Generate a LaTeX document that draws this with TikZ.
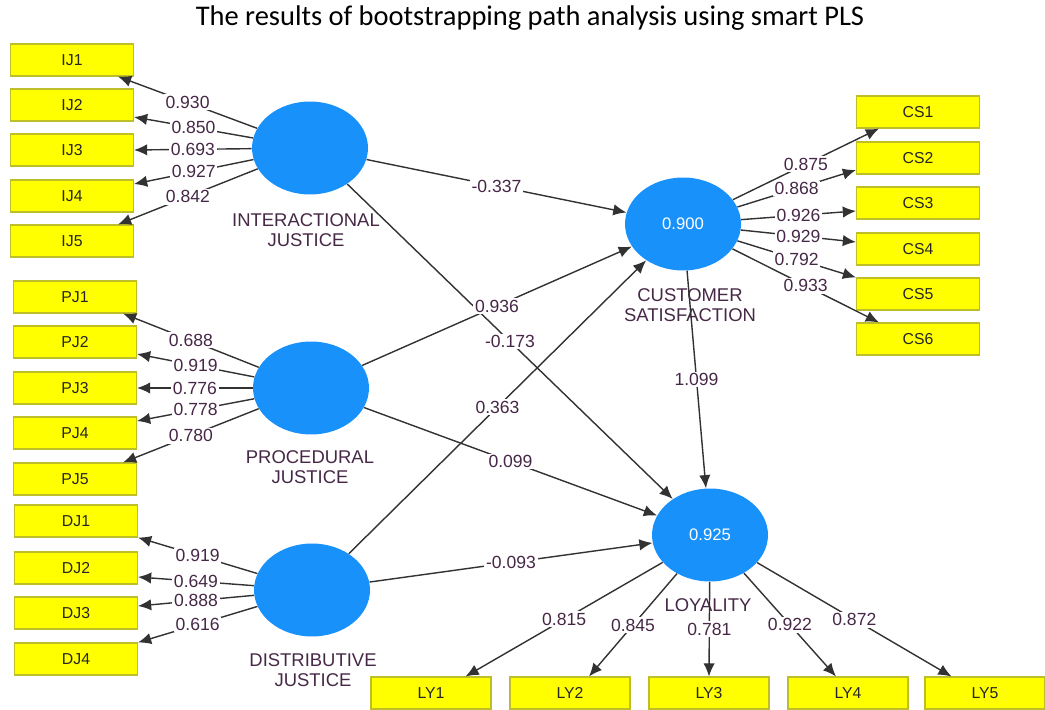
\documentclass[tikz,border=0pt]{standalone}
\usepackage{fontspec}
\setmainfont{Liberation Sans}
\newfontfamily\titlefont{Carlito}
\usetikzlibrary{shapes,arrows.meta,calc}
\usepackage{xcolor}
\definecolor{plsblue}{RGB}{25,145,250}
\definecolor{plsyellow}{RGB}{255,255,0}
\definecolor{plsedge}{RGB}{190,190,40}
\definecolor{plstext}{RGB}{70,40,70}
\definecolor{plsline}{RGB}{50,50,50}
\tikzset{
  indicator/.style={draw=plsedge,fill=plsyellow,line width=0.6pt,minimum width=2.46cm,minimum height=0.64cm,inner sep=0pt,text=black!85,font=\fontsize{9}{10}\selectfont},
  latent/.style={ellipse,fill=plsblue,minimum width=2.32cm,minimum height=1.86cm,inner sep=0pt,text=white,font=\fontsize{9.5}{11}\selectfont},
  lvname/.style={align=center,text=plstext,font=\fontsize{10.5}{11.5}\selectfont},
  load/.style={fill=white,inner sep=1pt,text=plstext,font=\fontsize{10}{11}\selectfont},
  link/.style={plsline,line width=0.8pt,-{Latex[length=7.5pt,width=6.5pt]}}
}

\begin{document}
\begin{tikzpicture}[x=0.02cm,y=-0.02cm]
        \useasboundingbox (0,0) rectangle (1045,710);
        \node (title) at (530,18) {\titlefont\fontsize{16.2}{19}\selectfont The results of bootstrapping path analysis using smart PLS};
        % latent variables
        \node[latent] (ij) at (310,148) {};
        \node[latent] (pj) at (311,388) {};
        \node[latent] (dj) at (312,590) {};
        \node[latent] (cs) at (683,224) {0.900};
        \node[latent] (ly) at (710,535) {0.925};
        \node[lvname] (ijname) at (306,230) {INTERACTIONAL\\JUSTICE};
        \node[lvname] (pjname) at (310,467) {PROCEDURAL\\JUSTICE};
        \node[lvname] (djname) at (313,670) {DISTRIBUTIVE\\JUSTICE};
        \node[lvname] (csname) at (690,305) {CUSTOMER\\SATISFACTION};
        \node[lvname] (lyname) at (708,605) {LOYALITY};
        % indicators
        \node[indicator] (ij1) at (72,60) {IJ1};
        \node[indicator] (ij2) at (72,105) {IJ2};
        \node[indicator] (ij3) at (72,150) {IJ3};
        \node[indicator] (ij4) at (72,196) {IJ4};
        \node[indicator] (ij5) at (72,241) {IJ5};
        \node[indicator] (pj1) at (75,297) {PJ1};
        \node[indicator] (pj2) at (75,342) {PJ2};
        \node[indicator] (pj3) at (75,388) {PJ3};
        \node[indicator] (pj4) at (75,433) {PJ4};
        \node[indicator] (pj5) at (75,479) {PJ5};
        \node[indicator] (dj1) at (76,521) {DJ1};
        \node[indicator] (dj2) at (76,568) {DJ2};
        \node[indicator] (dj3) at (76,613) {DJ3};
        \node[indicator] (dj4) at (76,659) {DJ4};
        \node[indicator] (cs1) at (918,112) {CS1};
        \node[indicator] (cs2) at (918,158) {CS2};
        \node[indicator] (cs3) at (918,203) {CS3};
        \node[indicator] (cs4) at (918,249) {CS4};
        \node[indicator] (cs5) at (918,294) {CS5};
        \node[indicator] (cs6) at (918,339) {CS6};
        \node[indicator,minimum width=2.4cm] (ly1) at (431,693) {LY1};
        \node[indicator,minimum width=2.4cm] (ly2) at (570,693) {LY2};
        \node[indicator,minimum width=2.4cm] (ly3) at (709,693) {LY3};
        \node[indicator,minimum width=2.4cm] (ly4) at (848,693) {LY4};
        \node[indicator,minimum width=2.4cm] (ly5) at (985,693) {LY5};
        % outer loadings
        \draw[link] (ij) -- ($(ij1.south east)+(-16,0)$) node[load,midway]{0.930};
        \draw[link] (ij) -- ($(ij2.east)+(0,12)$) node[load,midway]{0.850};
        \draw[link] (ij) -- (ij3.east) node[load,midway]{0.693};
        \draw[link] (ij) -- ($(ij4.east)+(0,-12)$) node[load,midway]{0.927};
        \draw[link] (ij) -- ($(ij5.north east)+(-16,0)$) node[load,midway]{0.842};
        \draw[link] (pj) -- ($(pj1.south east)+(-14,0)$) node[load,midway]{0.688};
        \draw[link] (pj) -- ($(pj2.east)+(0,12)$) node[load,midway]{0.919};
        \draw[link] (pj) -- (pj3.east) node[load,midway]{0.776};
        \draw[link] (pj) -- ($(pj4.east)+(0,-12)$) node[load,midway]{0.778};
        \draw[link] (pj) -- ($(pj5.north east)+(-14,0)$) node[load,midway]{0.780};
        \draw[link] (dj) -- (dj1.south east) node[load,midway]{0.919};
        \draw[link] (dj) -- ($(dj2.east)+(0,9)$) node[load,midway]{0.649};
        \draw[link] (dj) -- ($(dj3.east)+(0,-7)$) node[load,midway]{0.888};
        \draw[link] (dj) -- (dj4.north east) node[load,midway]{0.616};
        \draw[link] (cs) -- ($(cs1.south west)+(23,0)$) node[load,midway]{0.875};
        \draw[link] (cs) -- ($(cs2.west)+(0,12)$) node[load,midway]{0.868};
        \draw[link] (cs) -- ($(cs3.west)+(0,8)$) node[load,midway]{0.926};
        \draw[link] (cs) -- ($(cs4.west)+(0,-7)$) node[load,midway]{0.929};
        \draw[link] (cs) -- (cs5.north west) node[load,midway]{0.792};
        \draw[link] (cs) -- ($(cs6.north west)+(23,0)$) node[load,midway]{0.933};
        \draw[link] (ly) -- ($(ly1.north east)+(-26,0)$) node[load,midway]{0.815};
        \draw[link] (ly) -- ($(ly2.north)+(19,0)$) node[load,midway]{0.845};
        \draw[link] (ly) -- (ly3.north) node[load,midway]{0.781};
        \draw[link] (ly) -- ($(ly4.north)+(-12,0)$) node[load,midway]{0.922};
        \draw[link] (ly) -- ($(ly5.north west)+(27,0)$) node[load,midway]{0.872};
        % path coefficients
        \draw[link] (ij) -- (cs) node[load,midway]{-0.337};
        \draw[link] (ij) -- (ly) node[load,midway]{-0.173};
        \draw[link] (pj) -- (cs) node[load,midway]{0.936};
        \draw[link] (pj) -- (ly) node[load,midway]{0.099};
        \draw[link] (dj) -- (cs) node[load,midway]{0.363};
        \draw[link] (dj) -- (ly) node[load,midway]{-0.093};
        \draw[link] (cs) -- (ly) node[load,midway]{1.099};
      \end{tikzpicture}
\end{document}
